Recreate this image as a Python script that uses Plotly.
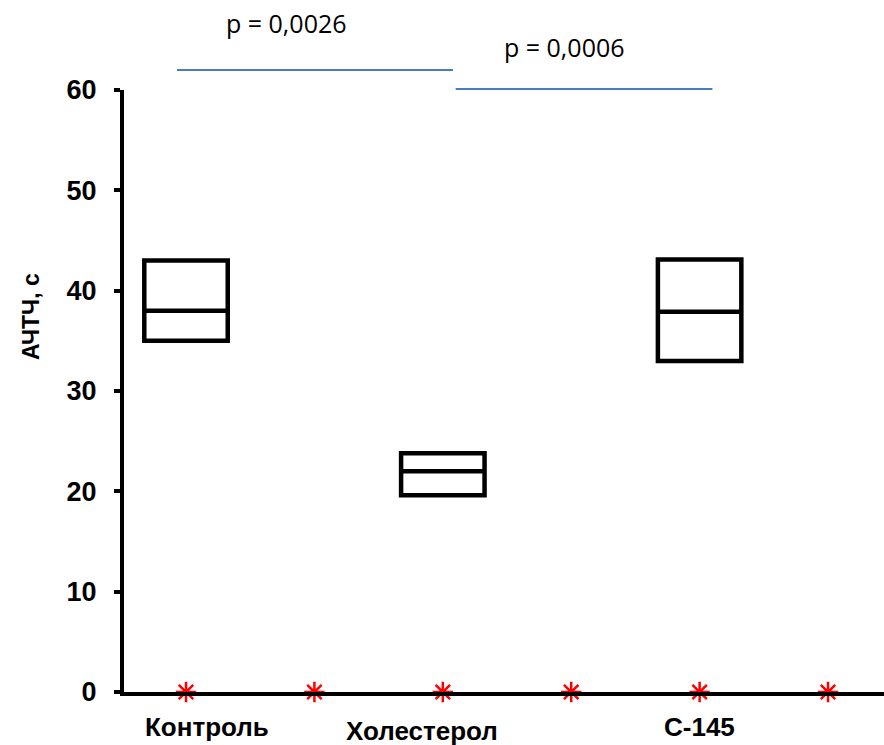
import plotly.graph_objects as go

# ---- data ----
box_labels = ["Контроль", "Холестерол", "С-145"]
box_pos = [0, 2, 4]
q1 = [35.0, 19.6, 33.0]
median = [38.0, 22.0, 37.9]
q3 = [43.0, 23.8, 43.1]

marker_x = [0, 1, 2, 3, 4, 5]
marker_y = [0, 0, 0, 0, 0, 0]

y_ticks = [0, 10, 20, 30, 40, 50, 60]
y_title = "АЧТЧ, с"

p_texts = ["p = 0,0026", "p = 0,0006"]
bracket_x0 = [-0.07, 2.10]
bracket_x1 = [2.08, 4.10]
bracket_y = [62.0, 60.1]
p_text_x = [0.78, 2.95]
p_text_y = [66.7, 64.3]

label_x = [0.16, 1.84, 4.0]
label_y = [-0.058, -0.064, -0.058]

YMAX = 60.0

fig = go.Figure()

for i, name in enumerate(box_labels):
    fig.add_trace(go.Box(
        x=[box_pos[i]],
        q1=[q1[i]], median=[median[i]], q3=[q3[i]],
        lowerfence=[q1[i]], upperfence=[q3[i]],
        width=0.65,
        whiskerwidth=0,
        boxpoints=False,
        fillcolor="rgba(255,255,255,0)",
        line=dict(color="black", width=4.5),
        name=name,
        showlegend=False,
        hoverinfo="skip",
    ))

fig.add_trace(go.Scatter(
    x=marker_x, y=marker_y, mode="markers",
    marker=dict(symbol="asterisk-open", size=17, color="red",
                line=dict(color="red", width=2.5)),
    cliponaxis=False, showlegend=False, hoverinfo="skip",
))

shapes = []
for i in range(2):
    shapes.append(dict(type="line", xref="x", yref="paper",
                       x0=bracket_x0[i], x1=bracket_x1[i],
                       y0=bracket_y[i] / YMAX, y1=bracket_y[i] / YMAX,
                       line=dict(color="#4A7EBB", width=2)))

annotations = []
for i in range(2):
    annotations.append(dict(x=p_text_x[i], y=p_text_y[i] / YMAX, xref="x", yref="paper",
                            text=p_texts[i], showarrow=False,
                            xanchor="center", yanchor="middle",
                            font=dict(family="Open Sans, sans-serif", size=25, color="black")))
for i, name in enumerate(box_labels):
    annotations.append(dict(x=label_x[i], y=label_y[i], xref="x", yref="paper",
                            text="<b>" + name + "</b>", showarrow=False,
                            xanchor="center", yanchor="middle",
                            font=dict(family="Liberation Sans, Arial, sans-serif", size=26, color="black")))
annotations.append(dict(x=-0.1224, y=0.6246, xref="paper", yref="paper",
                        text="<b>" + y_title + "</b>", showarrow=False, textangle=-90,
                        xanchor="center", yanchor="middle",
                        font=dict(family="Liberation Sans, Arial, sans-serif", size=23, color="black")))

fig.update_layout(
    width=884, height=745,
    margin=dict(l=124, r=0, t=90, b=53),
    paper_bgcolor="white", plot_bgcolor="white",
    shapes=shapes, annotations=annotations,
    xaxis=dict(range=[-0.483, 5.436], showgrid=False, zeroline=False,
               showline=True, linecolor="black", linewidth=4,
               showticklabels=False, ticks=""),
    yaxis=dict(range=[0, YMAX], tickvals=y_ticks, showgrid=False, zeroline=False,
               showline=True, linecolor="black", linewidth=4,
               ticks="outside", ticklen=6, tickwidth=4, tickcolor="black",
               ticklabelstandoff=12,
               tickfont=dict(family="Liberation Sans, Arial, sans-serif", size=27,
                             color="black", weight="bold")),
)

fig.write_html("out.html")
